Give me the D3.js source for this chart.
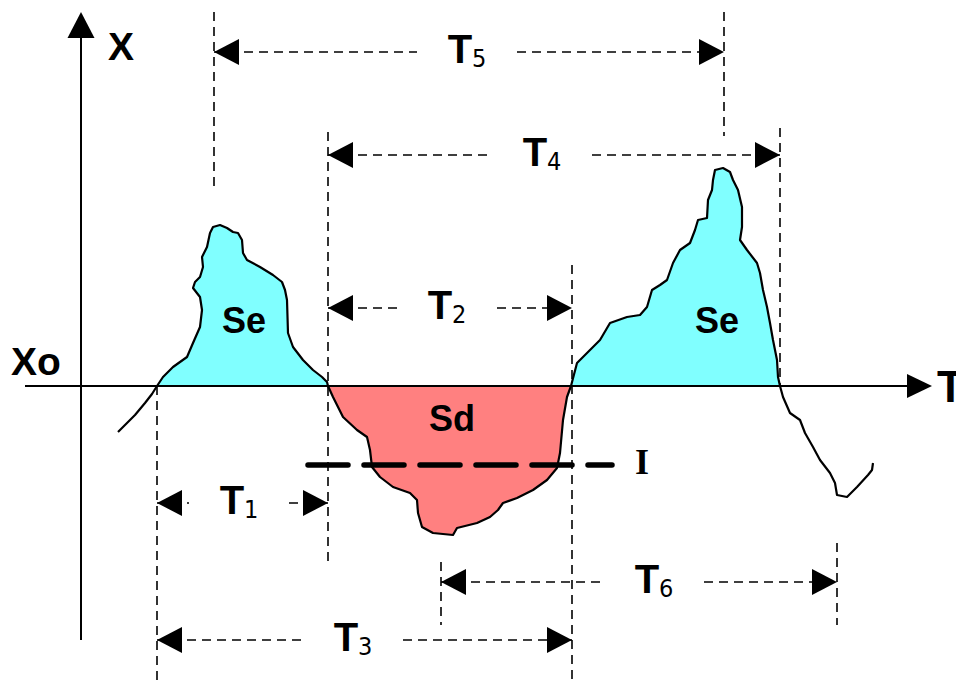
<!DOCTYPE html>
<html><head><meta charset="utf-8">
<script src="https://cdn.jsdelivr.net/npm/d3@7"></script>
<style>body{margin:0;background:#fff;overflow:hidden}</style>
</head><body>
<svg id="c" width="956" height="682"></svg>
<script>
// ---- data (t = time units from origin, X = deviation from Xo) ----
const curveT = [37,44,54,64,71,76, 82,92,106,112,119,121,119,112,114,119,122,121,126,129,132,139,146,152,157,161,162,166,179,192,201,204,206,207,212,222,232,241,246,247, 252,262,276,286,289,291,299,312,329,336,337,341,352,372,376,396,409,417,422,436,452,466,476,479,482,486,490, 496,499,509,519,529,546,559,566,571,579,586,592,599,609,614,617,626,627,631,632,634,642,649,652,657,661,661,659,666,676,679,682,686,689,692,696,697,699, 702,709,719,724,732,739,749,754,756,766,776,787,791,792];
const curveX = [-46,-39,-29,-17,-8,0, 9,19,29,43,59,76,89,98,104,109,119,129,139,153,159,161,158,154,153,146,133,126,119,111,104,96,86,53,39,26,16,9,4,0, -11,-31,-44,-51,-64,-81,-91,-101,-107,-114,-127,-141,-147,-149,-142,-137,-131,-124,-117,-112,-104,-94,-82,-67,-34,-11,0, 23,26,36,46,63,69,71,79,96,101,106,123,136,143,156,166,168,186,196,206,216,218,214,206,196,179,159,146,136,123,113,96,79,63,46,26,9,0, -11,-27,-34,-47,-61,-74,-87,-97,-109,-111,-101,-89,-84,-77];

const regionNames  = ["Se", "Sd", "Se"];
const regionFrom   = [76, 247, 490];
const regionTo     = [247, 490, 699];
const regionLabelT = [163, 371, 636];
const regionLabelX = [53, -45, 53];

const dimIndex  = ["1", "2", "3", "4", "5", "6"];
const dimStart  = [76, 247, 76, 247, 133, 360];
const dimEnd    = [247, 491, 491, 699, 643, 756];
const dimLevel  = [-117, 78, -254, 231, 334, -196];
const dimLabelT = [158, 366, 272, 461, 386, 573];

const guideT    = [133, 643, 247, 699, 491, 76, 360, 756];
const guideFrom = [374, 374, 254, 258, 121, 0, -176, -157];
const guideTo   = [196, 250, -177, 0, -296, -296, -239, -239];

const thresholdLevel = -79;
const thresholdFrom = 227, thresholdTo = 531;

// ---- scales ----
const x = d3.scaleLinear().domain([0, 850]).range([81, 931]);
const y = d3.scaleLinear().domain([0, 374]).range([386, 12]);

const svg = d3.select("#c");
const pts = curveT.map((t, i) => ({t, v: curveX[i]}));
const fillCol = {Se: "#80ffff", Sd: "#ff8080"};
const sans = "'Liberation Sans', Arial, sans-serif";

function arrow(px, py, dir, len, hw) {
  let p;
  if (dir === "left")  p = [[px,py],[px+len,py-hw],[px+len,py+hw]];
  if (dir === "right") p = [[px,py],[px-len,py-hw],[px-len,py+hw]];
  if (dir === "up")    p = [[px,py],[px-hw,py+len],[px+hw,py+len]];
  svg.append("path").attr("d", "M" + p.map(q => q.join(",")).join("L") + "Z").attr("fill", "#000");
}

// fills
const area = d3.area().x(d => x(d.t)).y0(y(0)).y1(d => y(d.v));
regionNames.forEach((n, i) => {
  const seg = pts.filter(d => d.t >= regionFrom[i] && d.t <= regionTo[i]);
  svg.append("path").attr("d", area(seg)).attr("fill", fillCol[n]);
});

// axes
svg.append("line").attr("x1", x(0)).attr("x2", x(0)).attr("y1", y(350)).attr("y2", y(-254))
  .attr("stroke", "#000").attr("stroke-width", 2);
arrow(x(0), y(374), "up", 26, 13.5);
svg.append("line").attr("x1", x(-56)).attr("x2", x(830)).attr("y1", y(0)).attr("y2", y(0))
  .attr("stroke", "#000").attr("stroke-width", 2);
arrow(x(851), y(0), "right", 25, 12);

// guides
guideT.forEach((t, i) => {
  svg.append("line").attr("x1", x(t)).attr("x2", x(t)).attr("y1", y(guideFrom[i])).attr("y2", y(guideTo[i]))
    .attr("stroke", "#000").attr("stroke-width", 1.6).attr("stroke-dasharray", "9,6");
});

// curve
const line = d3.line().x(d => x(d.t)).y(d => y(d.v));
svg.append("path").attr("d", line(pts)).attr("fill", "none").attr("stroke", "#000")
  .attr("stroke-width", 2.2).attr("stroke-linejoin", "round");

// region labels
regionNames.forEach((n, i) => {
  svg.append("text").attr("x", x(regionLabelT[i])).attr("y", y(regionLabelX[i]))
    .attr("text-anchor", "middle").attr("font-family", sans).attr("font-weight", "bold")
    .attr("font-size", 36).text(n);
});

// threshold
svg.append("line").attr("x1", x(thresholdFrom)).attr("x2", x(thresholdTo))
  .attr("y1", y(thresholdLevel)).attr("y2", y(thresholdLevel))
  .attr("stroke", "#000").attr("stroke-width", 5.5).attr("stroke-linecap", "round")
  .attr("stroke-dasharray", "40,16");
svg.append("text").attr("x", x(thresholdTo) + 30).attr("y", y(thresholdLevel) + 9)
  .attr("text-anchor", "middle").attr("font-family", "'Liberation Serif', 'Times New Roman', serif")
  .attr("font-weight", "bold").attr("font-size", 36).text("I");

// dimensions
dimIndex.forEach((k, i) => {
  const yy = y(dimLevel[i]);
  const gap = 50;
  const segs = [[x(dimStart[i]), x(dimLabelT[i]) - gap], [x(dimLabelT[i]) + gap, x(dimEnd[i])]];
  segs.forEach(s => {
    svg.append("line").attr("x1", s[0]).attr("x2", s[1]).attr("y1", yy).attr("y2", yy)
      .attr("stroke", "#000").attr("stroke-width", 1.6).attr("stroke-dasharray", "9,6");
  });
  arrow(x(dimStart[i]), yy, "left", 25, 13);
  arrow(x(dimEnd[i]), yy, "right", 25, 13);
  const tx = svg.append("text").attr("x", x(dimLabelT[i])).attr("y", yy + 11)
    .attr("text-anchor", "middle").attr("font-family", sans);
  tx.append("tspan").attr("font-weight", "bold").attr("font-size", 40).text("T");
  tx.append("tspan").attr("font-size", 25).attr("dy", 4)
    .attr("font-family", "'DejaVu Sans Condensed', 'Liberation Sans Narrow', 'DejaVu Sans', sans-serif")
    .attr("font-stretch", "condensed").text(k);
});

// axis labels
svg.append("text").attr("x", x(40)).attr("y", y(326)).attr("text-anchor", "middle")
  .attr("font-family", sans).attr("font-weight", "bold").attr("font-size", 39).text("X");
svg.append("text").attr("x", 11).attr("y", y(11)).attr("font-family", sans)
  .attr("font-weight", "bold").attr("font-size", 39).text("Xo");
svg.append("text").attr("x", x(856)).attr("y", y(-16)).attr("font-family", sans)
  .attr("font-weight", "bold").attr("font-size", 44).text("T");
</script>
</body></html>
